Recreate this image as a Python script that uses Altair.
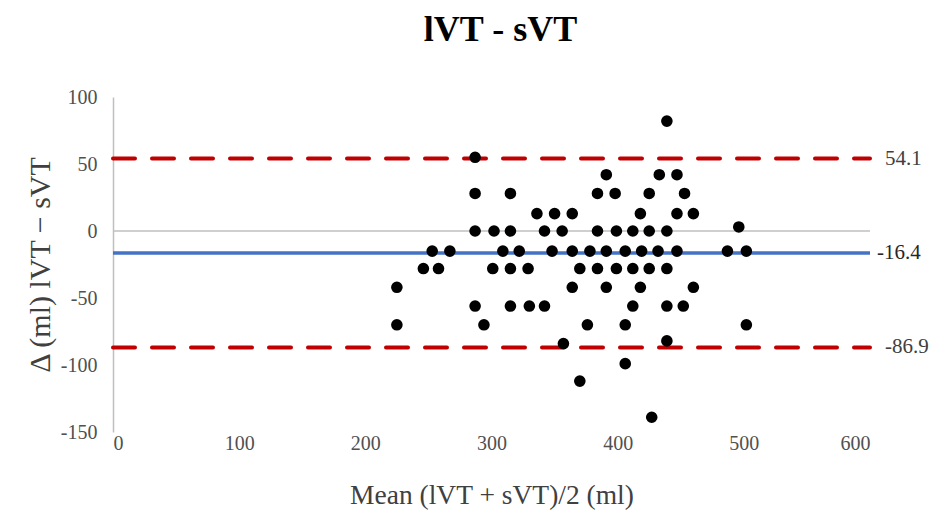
import altair as alt
import pandas as pd

# Bland-Altman data: mean (ml) and difference (ml)
mean_vals = [
    287,
    287, 315, 384, 398, 425, 453,
    391, 433, 447,
    439,
    336, 350, 364, 418, 447, 460,
    496,
    287, 302, 315, 342, 356, 384, 399, 412, 425, 439,
    253, 267, 309, 322, 348, 364, 378, 391, 406, 419, 432, 447, 487, 502,
    246, 258, 301, 315, 329, 370, 384, 399, 412, 425, 439,
    225, 364, 391, 418, 460,
    287, 315, 330, 342, 412, 439, 452,
    225, 294, 376, 406, 502,
    357, 439,
    406,
    370,
    427,
]
diff_vals = (
    [55]
    + [28] * 6
    + [42] * 3
    + [82]
    + [13] * 6
    + [3]
    + [0] * 10
    + [-15] * 14
    + [-28] * 11
    + [-42] * 5
    + [-56] * 7
    + [-70] * 5
    + [-84, -82]
    + [-99]
    + [-112]
    + [-139]
)

limit_values = [54.1, -86.9]
limit_labels = ["54.1", "-86.9"]
bias_value = -16.4
bias_label = "-16.4"

pts = pd.DataFrame({"mean": mean_vals, "diff": diff_vals})
lims = pd.DataFrame({"v": limit_values, "label": limit_labels})
bias = pd.DataFrame({"v": [bias_value], "label": [bias_label]})
zero = pd.DataFrame({"v": [0]})

FONT = "Liberation Serif"

xscale = alt.Scale(domain=[0, 600], nice=False)
yscale = alt.Scale(domain=[-150, 100], nice=False)

base_x = alt.X(
    "mean:Q",
    scale=xscale,
    axis=alt.Axis(
        values=[0, 100, 200, 300, 400, 500, 600],
        title="Mean (lVT + sVT)/2 (ml)",
        titleFontSize=27.5,
        grid=False,
        domain=False,
        ticks=False,
        labelPadding=1,
        titlePadding=28,
        labelExpr="'' + datum.value",
    ),
)
base_y = alt.Y(
    "diff:Q",
    scale=yscale,
    axis=alt.Axis(
        values=[-150, -100, -50, 0, 50, 100],
        title="Δ (ml) lVT − sVT",
        titleFontSize=30,
        grid=False,
        domain=True,
        domainColor="#BFBFBF",
        domainWidth=1.5,
        ticks=False,
        labelPadding=16,
        titlePadding=5,
        labelExpr="'' + datum.value",
    ),
)

zero_rule = alt.Chart(zero).mark_rule(color="#BFBFBF", strokeWidth=1.5).encode(
    y=alt.Y("v:Q", scale=yscale), x=alt.datum(0), x2=alt.datum(600)
)

limit_rules = alt.Chart(lims).mark_rule(
    color="#C00000", strokeWidth=4, strokeDash=[22, 17], strokeCap="round"
).encode(y=alt.Y("v:Q", scale=yscale), x=alt.datum(0), x2=alt.datum(600))

bias_rule = alt.Chart(bias).mark_rule(color="#4472C4", strokeWidth=3.5).encode(
    y=alt.Y("v:Q", scale=yscale), x=alt.datum(0), x2=alt.datum(600)
)

points = alt.Chart(pts).mark_circle(size=135, color="black", opacity=1).encode(
    x=base_x, y=base_y
)

limit_text = alt.Chart(lims).mark_text(
    align="left", baseline="middle", dx=15, font=FONT, fontSize=21, color="#404040"
).encode(y=alt.Y("v:Q", scale=yscale), x=alt.datum(600), text="label:N")

bias_text = alt.Chart(bias).mark_text(
    align="left", baseline="middle", dx=7, font=FONT, fontSize=21, color="#262626"
).encode(y=alt.Y("v:Q", scale=yscale), x=alt.datum(600), text="label:N")

chart = (
    alt.layer(zero_rule, limit_rules, bias_rule, points, limit_text, bias_text)
    .properties(
        width=757,
        height=335,
        autosize=alt.AutoSizeParams(type="none"),
        padding={"left": 105, "top": 89, "right": 67, "bottom": 90},
        title=alt.TitleParams(
            "lVT - sVT",
            font=FONT,
            fontSize=36,
            fontWeight="bold",
            color="#000000",
            offset=38,
            dx=9,
        ),
    )
    .configure_view(stroke=None)
    .configure_axis(
        labelFont=FONT,
        labelFontSize=20,
        labelColor="#505050",
        titleFont=FONT,
        titleFontWeight="normal",
        titleColor="#404040",
    )
)

chart.save("out.html", embed_options={"renderer": "svg", "actions": False})
